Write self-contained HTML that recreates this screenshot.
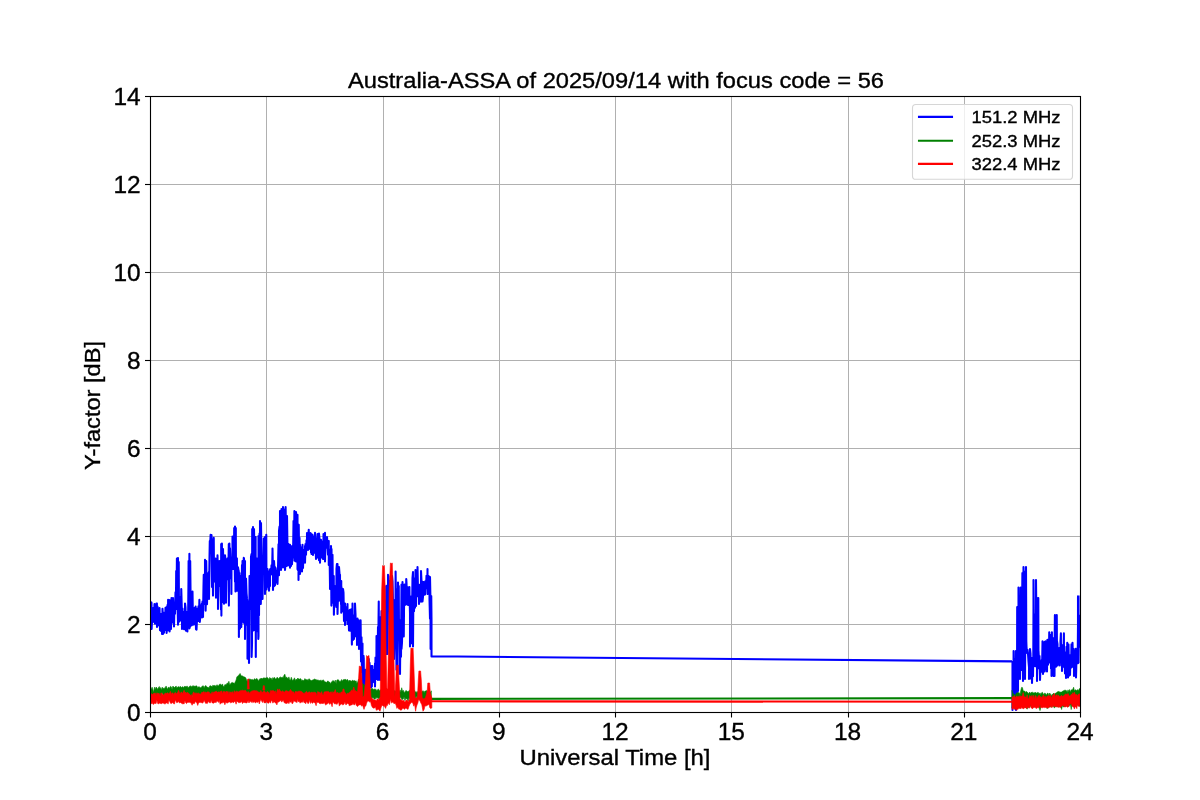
<!DOCTYPE html>
<html><head><meta charset="utf-8"><style>
html,body{margin:0;padding:0;background:#fff;overflow:hidden;}
svg{display:block;will-change:transform;}
text{font-family:"Liberation Sans",sans-serif;fill:#000;stroke:#000;stroke-width:0.35px;}
.g{stroke:#b0b0b0;stroke-width:1;}
.t{stroke:#000;stroke-width:1.11;}
.tl{font-size:24.0px;}
</style></head><body>
<svg width="1200" height="800" viewBox="0 0 1200 800">
<rect width="1200" height="800" fill="#fff"/>
<line x1="266.5" y1="96" x2="266.5" y2="712" class="g"/>
<line x1="383.5" y1="96" x2="383.5" y2="712" class="g"/>
<line x1="499.5" y1="96" x2="499.5" y2="712" class="g"/>
<line x1="615.5" y1="96" x2="615.5" y2="712" class="g"/>
<line x1="731.5" y1="96" x2="731.5" y2="712" class="g"/>
<line x1="848.5" y1="96" x2="848.5" y2="712" class="g"/>
<line x1="964.5" y1="96" x2="964.5" y2="712" class="g"/>
<line x1="150" y1="624.5" x2="1080" y2="624.5" class="g"/>
<line x1="150" y1="536.5" x2="1080" y2="536.5" class="g"/>
<line x1="150" y1="448.5" x2="1080" y2="448.5" class="g"/>
<line x1="150" y1="360.5" x2="1080" y2="360.5" class="g"/>
<line x1="150" y1="272.5" x2="1080" y2="272.5" class="g"/>
<line x1="150" y1="184.5" x2="1080" y2="184.5" class="g"/>
<defs><clipPath id="ax"><rect x="150" y="96" width="930" height="616"/></clipPath></defs>
<g id="data" clip-path="url(#ax)">
<polyline points="150.50,612.07 150.50,602.00 150.50,628.90 151.00,617.68 151.25,602.25 151.50,602.81 151.60,628.90 152.00,621.77 152.50,608.74 153.00,621.85 153.00,622.00 153.50,607.77 154.00,615.92 154.50,604.02 155.00,623.77 155.50,606.30 156.00,620.36 156.50,603.44 156.90,603.50 157.00,626.60 157.00,627.00 157.50,614.68 157.50,606.60 158.00,625.36 158.50,608.56 159.00,615.09 159.50,608.05 160.00,630.17 160.50,615.41 161.00,631.08 161.50,613.76 162.00,631.03 162.00,633.90 162.50,608.68 163.00,625.89 163.00,633.90 163.50,612.44 164.00,632.67 164.50,615.34 165.00,630.05 165.50,607.77 166.00,627.84 166.25,607.25 166.50,608.42 166.60,633.00 167.00,624.28 167.50,605.42 167.50,605.00 168.00,630.20 168.10,599.75 168.50,606.80 169.00,620.56 169.50,604.05 169.50,600.00 169.60,631.40 170.00,626.79 170.50,619.26 170.50,606.00 171.00,629.04 171.50,604.50 171.50,598.00 172.00,622.68 172.50,600.64 173.00,613.43 173.00,598.00 173.50,608.56 174.00,624.25 174.00,626.40 174.40,608.50 174.50,609.92 175.00,613.82 175.50,592.26 176.00,597.07 176.20,571.00 176.50,609.07 176.90,558.50 177.00,581.06 177.50,603.33 178.00,623.20 178.00,558.00 178.00,624.70 178.50,584.54 178.75,562.00 179.00,621.75 179.50,596.72 179.80,606.00 180.00,620.72 180.50,603.15 181.00,613.82 181.25,589.00 181.50,598.29 182.00,616.84 182.00,629.00 182.50,612.46 182.50,608.50 183.00,625.11 183.50,617.23 184.00,629.27 184.50,611.67 185.00,629.31 185.00,603.50 185.50,607.42 186.00,630.68 186.50,618.09 186.90,612.00 187.00,628.78 187.40,631.40 187.50,611.86 188.00,627.20 188.50,580.02 188.60,561.00 189.00,615.32 189.40,553.75 189.50,628.38 190.00,626.27 190.20,561.00 190.50,588.97 190.80,612.00 191.00,621.52 191.50,606.24 191.50,625.50 192.00,621.17 192.50,620.86 192.50,591.60 193.00,624.69 193.50,608.05 194.00,624.49 194.40,608.50 194.50,609.08 195.00,621.82 195.50,607.35 195.60,606.60 196.00,629.11 196.50,609.75 196.50,629.70 197.00,619.19 197.50,614.14 197.50,608.50 198.00,620.86 198.50,606.26 199.00,617.30 199.40,599.75 199.50,605.80 199.80,622.00 200.00,619.57 200.50,610.46 201.00,617.16 201.50,605.16 201.90,603.50 202.00,617.48 202.50,601.51 203.00,616.67 203.00,617.00 203.50,586.27 203.75,574.75 204.00,602.27 204.50,593.52 205.00,603.96 205.00,559.75 205.50,579.48 205.60,610.60 206.00,594.04 206.20,561.00 206.50,576.40 207.00,604.14 207.50,579.14 207.50,573.50 208.00,587.40 208.50,577.78 209.00,571.82 209.00,599.00 209.50,558.71 209.80,541.00 210.00,545.63 210.50,537.55 210.60,534.75 211.00,536.43 211.50,541.09 211.50,535.00 212.00,586.96 212.50,553.07 212.50,549.75 213.00,595.19 213.00,595.60 213.50,541.01 213.75,537.90 214.00,576.47 214.50,573.42 215.00,581.69 215.50,561.31 215.60,558.50 216.00,597.62 216.50,570.70 217.00,583.16 217.50,564.90 217.50,555.40 218.00,592.22 218.00,609.00 218.50,564.46 219.00,585.88 219.50,572.44 219.50,561.00 220.00,584.18 220.50,582.22 221.00,609.72 221.20,544.00 221.40,615.60 221.50,564.33 221.90,543.50 222.00,602.34 222.50,601.03 223.00,567.69 223.00,549.00 223.50,569.52 224.00,603.82 224.50,585.14 224.70,602.00 225.00,579.62 225.00,555.40 225.50,559.75 226.00,602.63 226.50,576.08 227.00,579.43 227.50,574.55 227.50,558.50 228.00,573.29 228.50,563.26 228.80,544.00 228.90,605.60 229.00,569.97 229.40,543.50 229.50,559.14 230.00,548.36 230.50,559.24 231.00,578.89 231.25,558.50 231.40,594.00 231.50,557.76 232.00,563.68 232.50,565.61 232.50,536.60 233.00,568.96 233.50,550.55 234.00,551.45 234.20,528.00 234.50,553.28 235.00,581.80 235.00,526.60 235.50,591.58 235.80,528.00 236.00,579.46 236.50,559.45 236.90,558.50 237.00,571.93 237.00,590.70 237.50,576.00 238.00,567.40 238.50,570.48 238.75,571.00 238.90,637.00 239.00,602.42 239.50,573.09 240.00,628.61 240.50,580.99 240.60,576.00 241.00,623.09 241.30,627.00 241.50,599.50 242.00,564.95 242.50,577.80 242.50,561.00 242.50,620.60 243.00,615.69 243.50,622.61 243.75,557.90 244.00,558.52 244.50,572.76 245.00,593.85 245.00,561.00 245.00,639.00 245.50,594.42 246.00,624.69 246.00,578.50 246.50,593.29 247.00,598.64 247.50,602.12 247.50,658.80 248.00,648.90 248.50,627.10 249.00,623.41 249.00,663.00 249.50,590.59 249.50,576.00 250.00,608.79 250.50,608.23 251.00,566.07 251.00,557.00 251.50,554.05 251.60,657.00 252.00,644.11 252.20,529.00 252.50,543.92 253.00,588.83 253.00,527.00 253.30,630.50 253.50,619.97 254.00,630.11 254.00,529.00 254.50,552.22 255.00,614.64 255.50,588.06 255.60,537.00 255.80,657.00 256.00,559.37 256.50,593.51 257.00,631.12 257.00,558.50 257.50,604.39 258.00,590.51 258.30,639.00 258.50,636.20 258.50,536.00 259.00,615.16 259.50,533.53 260.00,539.02 260.00,521.00 260.50,544.91 260.80,604.00 261.00,590.82 261.00,523.00 261.50,562.47 261.90,566.00 262.00,595.84 262.50,558.35 262.50,599.00 263.00,569.52 263.50,555.88 263.75,538.50 264.00,572.66 264.50,550.36 265.00,574.22 265.00,537.00 265.00,594.00 265.50,562.38 266.00,563.82 266.25,534.75 266.50,589.35 267.00,582.59 267.50,568.99 268.00,586.62 268.00,571.00 268.50,571.89 269.00,589.83 269.00,590.70 269.50,579.40 270.00,585.94 270.00,570.00 270.50,568.75 271.00,574.29 271.50,565.32 272.00,574.52 272.50,551.64 272.50,548.50 273.00,577.16 273.00,590.00 273.50,563.67 274.00,586.16 274.00,561.00 274.50,568.48 275.00,585.37 275.00,567.00 275.50,571.95 276.00,582.36 276.50,571.71 277.00,582.72 277.50,569.08 277.50,568.00 277.50,584.00 278.00,568.90 278.50,544.30 279.00,575.21 279.00,531.00 279.50,526.57 280.00,561.68 280.00,511.00 280.50,559.19 281.00,527.78 281.00,570.00 281.50,531.22 281.50,509.00 282.00,564.23 282.50,540.68 283.00,567.51 283.00,507.00 283.50,521.48 284.00,557.14 284.50,509.85 285.00,517.25 285.00,570.00 285.50,562.97 285.60,507.00 286.00,529.19 286.50,566.08 287.00,523.41 287.00,516.00 287.50,548.51 287.50,543.50 288.00,565.53 288.50,544.16 289.00,560.79 289.50,551.92 290.00,562.52 290.00,544.75 290.00,567.75 290.50,545.80 291.00,566.01 291.50,549.60 292.00,564.23 292.50,549.78 292.50,546.00 293.00,557.41 293.50,523.23 293.50,521.00 294.00,555.11 294.40,511.00 294.50,560.77 295.00,530.85 295.00,560.00 295.50,522.40 296.00,561.43 296.00,512.00 296.50,520.25 297.00,533.20 297.50,546.85 297.50,514.75 297.50,569.00 298.00,570.23 298.50,538.64 298.50,580.00 298.75,524.75 299.00,548.34 299.50,537.79 300.00,562.84 300.00,544.75 300.00,574.00 300.50,547.04 301.00,566.88 301.50,550.45 302.00,568.42 302.00,571.50 302.50,552.44 302.50,544.75 303.00,567.86 303.50,549.95 304.00,559.78 304.50,549.84 305.00,561.36 305.00,546.00 305.00,562.75 305.50,544.06 306.00,554.66 306.50,540.20 307.00,544.65 307.00,533.00 307.50,535.39 308.00,547.60 308.00,550.00 308.50,533.44 308.75,529.75 309.00,545.41 309.50,537.27 310.00,549.07 310.50,533.09 311.00,552.47 311.00,534.00 311.50,534.32 311.50,554.00 312.00,552.63 312.50,536.60 312.50,534.75 313.00,555.01 313.50,541.35 314.00,552.79 314.50,536.22 315.00,545.96 315.00,532.90 315.50,547.25 316.00,558.38 316.00,559.00 316.50,538.18 317.00,552.41 317.50,534.16 318.00,557.75 318.50,538.29 319.00,560.17 319.00,533.50 319.50,538.85 320.00,541.43 320.00,562.75 320.50,540.75 321.00,557.74 321.00,539.75 321.50,544.66 322.00,557.11 322.50,541.64 323.00,558.85 323.50,537.59 323.50,534.00 324.00,558.88 324.50,535.10 325.00,560.33 325.00,532.90 325.00,561.50 325.50,541.21 326.00,546.43 326.50,541.64 327.00,547.79 327.00,537.00 327.50,544.64 328.00,554.58 328.50,541.98 328.75,541.00 328.75,565.00 329.00,564.88 329.50,549.66 330.00,584.49 330.00,589.00 330.50,552.18 331.00,562.64 331.00,546.00 331.40,605.60 331.50,549.08 332.00,597.81 332.50,601.43 332.50,554.75 333.00,602.75 333.50,590.92 333.75,576.00 333.90,614.70 334.00,609.49 334.50,588.35 335.00,604.95 335.00,586.00 335.50,586.70 336.00,601.75 336.30,607.00 336.50,568.80 336.90,564.00 337.00,606.62 337.50,578.06 337.50,564.00 337.50,614.00 338.00,594.74 338.50,570.99 339.00,600.69 339.00,567.00 339.50,573.65 340.00,592.82 340.00,574.75 340.00,595.00 340.50,581.03 341.00,604.24 341.25,581.00 341.25,612.75 341.50,586.97 342.00,606.59 342.50,597.22 343.00,611.20 343.00,589.00 343.50,592.73 344.00,620.86 344.50,607.21 345.00,623.83 345.00,603.50 345.00,625.00 345.50,607.05 346.00,620.03 346.50,607.06 347.00,616.63 347.50,604.42 347.50,604.00 347.50,624.00 348.00,620.04 348.50,610.45 349.00,630.42 349.50,616.09 350.00,630.74 350.00,609.75 350.50,625.46 351.00,626.82 351.50,608.98 351.90,644.60 352.00,623.18 352.50,608.95 352.50,603.50 353.00,640.06 353.50,630.34 354.00,637.14 354.00,639.00 354.50,615.38 355.00,621.55 355.00,603.50 355.50,614.41 356.00,636.51 356.50,619.44 357.00,628.49 357.00,645.00 357.50,627.21 357.50,618.50 358.00,637.54 358.50,620.12 359.00,636.79 359.00,649.00 359.50,633.70 360.00,634.88 360.50,637.83 360.60,620.40 361.00,657.37 361.00,661.50 361.50,637.28 362.00,672.57 362.50,651.15 362.50,643.50 362.50,701.50 363.00,670.97 363.50,655.83 363.75,658.50 364.00,697.82 364.00,704.00 364.50,670.47 365.00,676.85 365.50,669.91 366.00,683.96 366.00,699.00 366.50,670.82 367.00,677.55 367.50,694.90 368.00,685.82 368.50,664.93 368.75,659.00 369.00,678.16 369.50,662.81 370.00,670.93 370.50,666.48 371.00,687.43 371.50,666.05 371.90,686.50 372.00,676.08 372.50,670.29 372.50,666.00 373.00,679.52 373.50,676.81 374.00,682.10 374.50,669.71 375.00,685.42 375.00,663.50 375.00,686.50 375.50,657.42 376.00,668.17 376.25,679.00 376.50,643.81 376.50,636.00 377.00,661.71 377.50,666.76 378.00,626.99 378.00,680.00 378.50,623.85 378.75,601.60 379.00,675.10 379.50,638.27 380.00,659.29 380.00,680.00 380.50,634.86 380.50,617.00 381.00,654.16 381.50,611.07 382.00,619.65 382.00,659.00 382.50,620.95 383.00,657.36 383.00,601.00 383.50,604.36 384.00,654.28 384.50,623.97 385.00,623.77 385.50,601.00 386.00,634.37 386.25,586.00 386.25,654.00 386.50,593.96 387.00,608.95 387.50,585.40 387.50,654.00 388.00,600.95 388.00,574.75 388.50,576.63 389.00,594.78 389.50,596.05 390.00,588.34 390.00,581.00 390.00,649.00 390.50,624.02 391.00,643.83 391.50,652.39 392.00,649.51 392.00,576.00 392.50,581.67 393.00,603.11 393.50,599.85 394.00,635.34 394.00,659.00 394.50,635.93 395.00,610.84 395.50,629.62 395.60,571.60 396.00,614.26 396.50,669.71 397.00,637.39 397.50,589.15 397.50,674.00 398.00,582.57 398.50,619.57 398.75,586.00 399.00,634.21 399.50,620.01 400.00,656.82 400.00,674.00 400.50,622.90 401.00,656.66 401.50,584.42 401.50,649.00 402.00,642.53 402.50,608.64 402.50,582.00 402.50,636.50 403.00,626.26 403.50,590.32 403.75,636.50 404.00,609.40 404.50,584.58 405.00,594.66 405.00,605.00 405.50,589.90 406.00,604.49 406.25,579.00 406.50,583.09 407.00,601.91 407.50,587.05 408.00,604.89 408.50,593.25 409.00,599.50 409.00,605.00 409.40,587.00 409.50,594.94 410.00,613.42 410.00,646.50 410.50,618.51 411.00,643.46 411.50,596.25 412.00,614.97 412.50,577.75 413.00,572.00 413.00,572.00 413.00,646.50 413.50,578.35 414.00,611.28 414.50,588.37 415.00,596.09 415.00,607.75 415.50,569.96 416.00,605.91 416.50,579.43 417.00,596.38 417.50,590.22 417.50,567.00 418.00,589.93 418.50,586.15 419.00,593.94 419.00,604.00 419.50,584.84 420.00,592.19 420.50,588.03 421.00,601.80 421.00,571.00 421.50,581.21 422.00,593.15 422.50,581.73 422.50,601.50 423.00,596.57 423.50,585.48 423.75,582.00 424.00,594.83 424.50,586.87 425.00,594.40 425.50,581.14 426.00,588.19 426.50,575.80 427.00,586.57 427.50,572.19 427.50,569.00 427.50,594.00 428.00,590.92 428.50,575.73 429.00,584.95 429.50,578.92 429.50,599.00 430.00,618.83 430.00,577.00 430.50,602.05 430.60,649.00 431.00,621.82 431.25,596.00 431.50,620.74 431.50,656.50 431.50,656.30 1012.00,661.40" fill="none" stroke="#0000ff" stroke-width="2.08" stroke-linejoin="round"/>
<polyline points="1012.50,663.97 1012.50,662.00 1012.50,710.00 1013.00,684.00 1013.20,662.00 1013.50,679.46 1013.60,651.00 1014.00,680.23 1014.50,658.77 1015.00,702.15 1015.50,707.99 1015.90,651.00 1016.00,705.69 1016.00,710.00 1016.30,663.00 1016.50,663.69 1017.00,689.78 1017.00,663.00 1017.00,699.00 1017.20,607.00 1017.50,657.15 1018.00,689.69 1018.00,691.00 1018.30,607.00 1018.50,617.34 1018.50,587.50 1019.00,637.04 1019.50,605.01 1020.00,658.74 1020.00,679.00 1020.50,649.34 1020.70,587.50 1020.90,595.00 1021.00,615.05 1021.50,664.96 1022.00,670.03 1022.20,595.00 1022.40,573.00 1022.50,582.37 1023.00,663.54 1023.00,681.00 1023.30,573.00 1023.50,570.96 1023.50,567.00 1024.00,603.87 1024.50,571.51 1025.00,665.55 1025.00,679.00 1025.50,609.43 1026.00,631.19 1026.00,567.00 1026.30,641.00 1026.50,646.87 1027.00,652.95 1027.50,649.78 1028.00,653.38 1028.50,661.45 1029.00,667.48 1029.00,679.00 1029.50,670.46 1030.00,672.33 1030.00,649.00 1030.50,653.72 1031.00,678.83 1031.50,657.73 1032.00,678.69 1032.00,683.00 1032.50,663.46 1032.75,657.75 1033.00,676.27 1033.30,657.00 1033.50,608.32 1033.50,580.00 1034.00,643.77 1034.50,624.41 1035.00,664.29 1035.00,666.25 1035.50,614.28 1036.00,619.63 1036.00,580.00 1036.20,598.00 1036.50,662.73 1036.50,666.25 1037.00,635.06 1037.00,681.00 1037.50,637.95 1038.00,598.00 1038.30,598.00 1038.50,668.27 1038.50,651.00 1039.00,660.31 1039.50,655.92 1040.00,676.38 1040.00,680.00 1040.50,666.31 1041.00,668.10 1041.50,663.76 1041.75,660.00 1042.00,671.75 1042.50,643.01 1042.50,641.25 1043.00,666.77 1043.00,674.00 1043.50,647.91 1044.00,661.18 1044.50,642.01 1044.75,671.50 1045.00,668.16 1045.50,658.65 1045.50,641.25 1046.00,659.80 1046.00,651.75 1046.50,657.45 1047.00,663.45 1047.00,671.50 1047.40,639.75 1047.50,643.89 1048.00,664.63 1048.50,639.69 1049.00,647.94 1049.25,632.25 1049.25,662.50 1049.50,634.23 1050.00,660.46 1050.00,662.50 1050.50,634.97 1051.00,668.57 1051.50,635.37 1051.50,676.00 1051.90,632.25 1052.00,664.99 1052.25,660.00 1052.50,666.03 1053.00,657.99 1053.40,638.25 1053.50,676.00 1054.00,674.32 1054.50,640.26 1054.50,676.00 1054.70,638.25 1054.90,615.00 1055.00,663.03 1055.50,620.87 1056.00,666.73 1056.50,623.52 1056.75,615.00 1057.00,660.08 1057.00,641.25 1057.50,644.22 1057.50,665.50 1058.00,663.02 1058.50,654.14 1059.00,661.98 1059.50,647.79 1059.75,665.50 1060.00,650.07 1060.50,647.03 1060.50,641.25 1060.90,633.40 1061.00,661.40 1061.50,648.51 1062.00,666.94 1062.00,671.00 1062.50,645.18 1063.00,657.20 1063.50,653.20 1063.90,633.40 1064.00,667.05 1064.50,655.05 1065.00,673.46 1065.00,652.50 1065.50,661.60 1066.00,671.82 1066.00,678.00 1066.50,646.68 1067.00,668.10 1067.25,642.75 1067.50,657.14 1068.00,675.49 1068.00,677.50 1068.50,644.42 1069.00,675.74 1069.50,655.06 1070.00,667.97 1070.00,675.00 1070.50,655.08 1071.00,667.81 1071.50,644.25 1072.00,661.91 1072.00,663.25 1072.50,647.33 1072.50,642.75 1073.00,662.94 1073.00,667.00 1073.25,648.75 1073.50,651.16 1074.00,669.28 1074.00,676.00 1074.50,652.32 1075.00,663.60 1075.50,651.73 1075.50,648.75 1076.00,677.07 1076.00,677.50 1076.50,656.71 1077.00,657.13 1077.50,648.13 1077.80,648.00 1078.00,625.72 1078.00,596.25 1078.00,663.25 1078.50,621.19 1079.00,646.83 1079.50,615.58 1080.00,641.04 1080.50,627.39 1080.50,596.25 1080.50,663.25" fill="none" stroke="#0000ff" stroke-width="2.08" stroke-linejoin="round"/>
<polygon points="150.50,690.42 151.30,689.09 152.10,687.17 152.90,689.51 153.70,691.95 154.50,687.14 155.30,689.53 156.10,687.01 156.90,687.91 157.70,689.46 158.50,687.47 159.30,686.53 160.10,689.08 160.90,687.45 161.70,689.93 162.50,687.19 163.30,688.60 164.10,688.18 164.90,688.19 165.70,686.43 166.50,686.42 167.30,689.19 168.10,688.08 168.90,686.92 169.70,688.57 170.50,686.35 171.30,686.88 172.10,689.52 172.90,686.09 173.70,687.05 174.50,687.51 175.30,686.75 176.10,686.00 176.90,687.95 177.70,686.94 178.50,686.60 179.30,687.53 180.10,686.34 180.90,686.94 181.70,687.56 182.50,686.59 183.30,687.51 184.10,686.89 184.90,685.97 185.70,686.80 186.50,686.42 187.30,686.13 188.10,687.64 188.90,687.11 189.70,686.17 190.50,685.79 191.30,687.37 192.10,685.73 192.90,686.43 193.70,685.75 194.50,686.23 195.30,686.24 196.10,685.70 196.90,686.02 197.70,687.65 198.50,686.83 199.30,686.68 200.10,687.81 200.90,687.72 201.70,686.87 202.50,685.92 203.30,685.81 204.10,687.95 204.90,686.24 205.70,685.45 206.50,686.58 207.30,687.25 208.10,687.11 208.90,688.25 209.70,685.90 210.50,685.73 211.30,686.06 212.10,687.07 212.90,685.12 213.70,685.86 214.50,685.44 215.30,685.57 216.10,686.42 216.90,684.68 217.70,685.38 218.50,685.99 219.30,684.39 220.10,684.08 220.90,684.46 221.70,685.20 222.50,683.95 223.30,686.55 224.10,686.47 224.90,684.57 225.70,684.76 226.50,684.27 227.30,682.97 228.10,683.47 228.90,681.28 229.70,684.72 230.50,683.99 231.30,682.91 232.10,682.20 232.90,682.95 233.70,683.01 234.50,683.46 235.30,681.74 236.10,680.07 236.90,676.79 237.70,676.18 238.50,675.54 239.30,674.42 240.10,673.44 240.90,675.22 241.70,675.93 242.50,675.93 243.30,676.54 244.10,676.95 244.90,677.06 245.70,677.78 246.50,679.86 247.30,681.66 248.10,679.11 248.90,679.61 249.70,678.94 250.50,679.31 251.30,679.77 252.10,679.28 252.90,679.93 253.70,680.05 254.50,678.62 255.30,679.43 256.10,678.95 256.90,678.41 257.70,679.44 258.50,681.31 259.30,679.49 260.10,678.38 260.90,679.11 261.70,677.99 262.50,678.96 263.30,677.93 264.10,677.76 264.90,678.28 265.70,678.08 266.50,677.81 267.30,677.39 268.10,678.34 268.90,679.44 269.70,677.41 270.50,678.30 271.30,678.31 272.10,679.89 272.90,677.53 273.70,678.47 274.50,677.33 275.30,678.92 276.10,679.01 276.90,677.53 277.70,677.61 278.50,678.99 279.30,677.88 280.10,676.83 280.90,677.46 281.70,677.52 282.50,677.20 283.30,677.58 284.10,675.04 284.90,674.19 285.70,678.01 286.50,677.07 287.30,677.68 288.10,678.74 288.90,676.89 289.70,679.64 290.50,680.24 291.30,677.28 292.10,679.60 292.90,680.57 293.70,679.37 294.50,677.82 295.30,681.03 296.10,679.01 296.90,680.17 297.70,678.05 298.50,678.86 299.30,679.19 300.10,678.70 300.90,678.85 301.70,680.76 302.50,680.12 303.30,680.62 304.10,680.18 304.90,678.60 305.70,679.56 306.50,679.81 307.30,679.54 308.10,680.50 308.90,678.77 309.70,679.22 310.50,679.98 311.30,681.02 312.10,679.92 312.90,680.20 313.70,679.39 314.50,679.07 315.30,679.41 316.10,679.51 316.90,680.17 317.70,679.99 318.50,680.20 319.30,680.41 320.10,680.71 320.90,679.87 321.70,681.23 322.50,680.33 323.30,679.82 324.10,680.96 324.90,681.69 325.70,682.02 326.50,682.59 327.30,681.33 328.10,680.89 328.90,682.29 329.70,682.09 330.50,684.07 331.30,682.15 332.10,681.39 332.90,680.45 333.70,681.12 334.50,681.89 335.30,680.05 336.10,683.73 336.90,680.04 337.70,679.84 338.50,679.87 339.30,681.26 340.10,681.54 340.90,680.91 341.70,679.44 342.50,681.13 343.30,679.83 344.10,679.36 344.90,679.84 345.70,679.27 346.50,680.55 347.30,679.36 348.10,680.28 348.90,681.51 349.70,680.00 350.50,680.83 351.30,681.31 352.10,680.43 352.90,680.37 353.70,680.94 354.50,680.47 355.30,681.30 356.10,680.72 356.90,683.46 357.70,682.07 358.50,679.13 359.30,681.50 360.10,684.25 360.90,682.20 361.70,683.57 362.50,683.43 363.30,684.10 364.10,684.81 364.90,685.24 365.70,687.51 366.50,686.30 367.30,686.40 368.10,686.89 368.90,691.33 369.70,690.27 370.50,689.63 371.30,688.70 372.10,688.29 372.90,688.91 373.70,689.51 374.50,689.05 375.30,689.14 376.10,689.45 376.90,690.67 377.70,689.55 378.50,689.01 379.30,690.82 380.10,690.23 380.90,689.81 381.70,689.63 382.50,690.46 383.30,689.92 384.10,691.21 384.90,690.23 385.70,689.55 386.50,689.84 387.30,689.30 388.10,689.95 388.90,691.79 389.70,689.60 390.50,690.59 391.30,690.10 392.10,691.70 392.90,690.06 393.70,690.78 394.50,690.67 395.30,690.79 396.10,692.07 396.90,690.13 397.70,694.40 398.50,690.20 399.30,692.17 400.10,690.05 400.90,692.24 401.70,687.76 402.50,691.32 403.30,690.34 404.10,692.16 404.90,692.44 405.70,690.66 406.50,690.66 407.30,691.73 408.10,691.16 408.90,691.35 409.70,690.02 410.50,690.57 411.30,690.04 412.10,691.94 412.90,690.66 413.70,691.65 414.50,690.32 415.30,692.35 416.10,691.47 416.90,693.11 417.70,691.51 418.50,691.07 419.30,692.17 420.10,692.94 420.90,692.53 421.70,692.21 422.50,690.92 423.30,690.83 424.10,692.78 424.90,690.97 425.70,690.97 426.50,690.49 427.30,692.02 428.10,692.23 428.90,693.24 429.70,691.53 430.50,692.58 431.30,690.80 431.30,699.45 430.50,697.63 429.70,699.14 428.90,698.52 428.10,697.63 427.30,698.74 426.50,699.86 425.70,697.83 424.90,699.41 424.10,699.90 423.30,699.71 422.50,699.83 421.70,699.29 420.90,698.65 420.10,697.63 419.30,698.65 418.50,699.24 417.70,698.53 416.90,698.44 416.10,695.86 415.30,699.33 414.50,699.67 413.70,699.65 412.90,699.67 412.10,698.66 411.30,697.70 410.50,698.88 409.70,698.43 408.90,698.16 408.10,701.04 407.30,699.23 406.50,698.63 405.70,698.48 404.90,700.66 404.10,696.73 403.30,698.94 402.50,699.46 401.70,699.57 400.90,697.21 400.10,697.66 399.30,697.43 398.50,699.50 397.70,699.52 396.90,697.48 396.10,698.85 395.30,699.12 394.50,695.30 393.70,698.34 392.90,698.59 392.10,698.56 391.30,698.03 390.50,698.94 389.70,698.14 388.90,696.31 388.10,699.28 387.30,698.74 386.50,699.28 385.70,697.34 384.90,697.94 384.10,697.42 383.30,698.48 382.50,697.56 381.70,699.31 380.90,699.36 380.10,699.07 379.30,697.99 378.50,698.78 377.70,697.48 376.90,698.55 376.10,696.93 375.30,698.88 374.50,699.32 373.70,698.39 372.90,697.14 372.10,698.46 371.30,699.07 370.50,697.74 369.70,698.14 368.90,698.62 368.10,696.37 367.30,698.89 366.50,697.09 365.70,699.02 364.90,697.18 364.10,698.73 363.30,699.14 362.50,698.73 361.70,698.80 360.90,698.57 360.10,698.79 359.30,698.39 358.50,698.42 357.70,697.72 356.90,698.25 356.10,698.33 355.30,698.83 354.50,698.58 353.70,695.76 352.90,698.27 352.10,698.23 351.30,698.82 350.50,697.42 349.70,698.22 348.90,698.93 348.10,697.71 347.30,696.79 346.50,697.92 345.70,698.72 344.90,696.83 344.10,696.97 343.30,696.79 342.50,698.68 341.70,698.73 340.90,698.89 340.10,697.94 339.30,697.92 338.50,697.07 337.70,698.51 336.90,697.79 336.10,698.23 335.30,698.13 334.50,698.58 333.70,698.53 332.90,696.33 332.10,695.05 331.30,696.12 330.50,697.65 329.70,696.90 328.90,695.88 328.10,695.55 327.30,698.68 326.50,697.99 325.70,697.07 324.90,697.55 324.10,697.48 323.30,694.76 322.50,698.75 321.70,697.34 320.90,698.15 320.10,696.94 319.30,697.52 318.50,698.56 317.70,697.47 316.90,697.37 316.10,696.56 315.30,696.21 314.50,697.79 313.70,698.52 312.90,698.21 312.10,697.36 311.30,694.60 310.50,698.59 309.70,697.66 308.90,697.10 308.10,698.56 307.30,698.47 306.50,697.01 305.70,698.41 304.90,697.49 304.10,698.37 303.30,696.08 302.50,696.97 301.70,698.18 300.90,697.56 300.10,698.40 299.30,697.10 298.50,697.28 297.70,697.50 296.90,697.65 296.10,697.91 295.30,697.13 294.50,697.77 293.70,696.67 292.90,698.24 292.10,696.26 291.30,697.56 290.50,697.75 289.70,697.24 288.90,697.36 288.10,696.86 287.30,697.90 286.50,697.82 285.70,697.60 284.90,697.58 284.10,695.85 283.30,697.87 282.50,695.64 281.70,698.25 280.90,697.47 280.10,696.88 279.30,697.22 278.50,697.65 277.70,698.47 276.90,697.03 276.10,698.33 275.30,696.05 274.50,696.34 273.70,697.03 272.90,697.01 272.10,697.61 271.30,696.50 270.50,698.12 269.70,696.29 268.90,697.51 268.10,696.36 267.30,697.89 266.50,697.39 265.70,697.48 264.90,696.26 264.10,696.77 263.30,697.52 262.50,695.82 261.70,697.72 260.90,696.32 260.10,695.81 259.30,695.04 258.50,698.12 257.70,697.42 256.90,697.96 256.10,696.24 255.30,697.55 254.50,697.10 253.70,696.91 252.90,696.38 252.10,697.17 251.30,698.02 250.50,696.11 249.70,697.77 248.90,696.80 248.10,696.97 247.30,698.02 246.50,697.71 245.70,697.62 244.90,697.23 244.10,696.75 243.30,696.30 242.50,695.72 241.70,695.99 240.90,695.21 240.10,695.34 239.30,695.14 238.50,697.58 237.70,697.44 236.90,695.51 236.10,696.95 235.30,700.18 234.50,696.50 233.70,697.50 232.90,697.26 232.10,695.39 231.30,697.09 230.50,697.06 229.70,697.48 228.90,697.23 228.10,697.31 227.30,694.72 226.50,692.71 225.70,694.86 224.90,696.45 224.10,698.23 223.30,697.10 222.50,696.82 221.70,695.27 220.90,697.09 220.10,697.33 219.30,695.93 218.50,696.94 217.70,695.74 216.90,697.19 216.10,696.96 215.30,695.68 214.50,696.39 213.70,695.80 212.90,695.14 212.10,697.44 211.30,694.92 210.50,696.24 209.70,694.94 208.90,696.72 208.10,697.53 207.30,697.11 206.50,696.35 205.70,696.63 204.90,696.77 204.10,695.12 203.30,696.66 202.50,696.53 201.70,695.79 200.90,696.90 200.10,696.67 199.30,696.02 198.50,697.46 197.70,695.66 196.90,696.47 196.10,695.27 195.30,694.39 194.50,697.33 193.70,695.99 192.90,694.80 192.10,696.98 191.30,696.80 190.50,698.09 189.70,697.05 188.90,697.21 188.10,697.09 187.30,693.50 186.50,697.17 185.70,696.65 184.90,696.97 184.10,695.25 183.30,697.27 182.50,694.39 181.70,695.70 180.90,697.29 180.10,696.67 179.30,697.05 178.50,696.85 177.70,696.71 176.90,696.99 176.10,697.06 175.30,696.22 174.50,695.88 173.70,697.07 172.90,693.45 172.10,694.69 171.30,696.78 170.50,696.80 169.70,696.06 168.90,696.40 168.10,696.71 167.30,694.94 166.50,695.74 165.70,696.51 164.90,694.36 164.10,696.42 163.30,696.37 162.50,692.51 161.70,695.11 160.90,696.12 160.10,696.69 159.30,695.13 158.50,693.27 157.70,696.39 156.90,696.63 156.10,696.36 155.30,694.60 154.50,696.79 153.70,695.67 152.90,695.91 152.10,696.99 151.30,694.41 150.50,695.03" fill="#008000" stroke="#008000" stroke-width="0.6" stroke-linejoin="round"/>
<polyline points="431.00,698.90 1012.00,698.10" fill="none" stroke="#008000" stroke-width="2.08" stroke-linejoin="round"/>
<polygon points="1012.00,690.30 1012.80,694.88 1013.60,693.53 1014.40,694.98 1015.20,695.65 1016.00,693.57 1016.80,692.87 1017.60,692.98 1018.40,692.62 1019.20,692.71 1020.00,694.84 1020.80,690.43 1021.60,687.39 1022.40,687.54 1023.20,690.79 1024.00,691.33 1024.80,691.05 1025.60,692.45 1026.40,691.43 1027.20,692.05 1028.00,693.19 1028.80,693.59 1029.60,691.99 1030.40,693.61 1031.20,692.33 1032.00,692.60 1032.80,692.19 1033.60,692.95 1034.40,692.73 1035.20,692.62 1036.00,692.51 1036.80,693.33 1037.60,692.38 1038.40,692.56 1039.20,694.18 1040.00,692.85 1040.80,694.66 1041.60,692.77 1042.40,692.30 1043.20,693.88 1044.00,694.59 1044.80,692.89 1045.60,693.69 1046.40,695.35 1047.20,693.41 1048.00,693.06 1048.80,695.75 1049.60,693.02 1050.40,693.90 1051.20,696.30 1052.00,694.37 1052.80,694.70 1053.60,693.04 1054.40,695.32 1055.20,693.26 1056.00,693.34 1056.80,692.29 1057.60,691.78 1058.40,691.48 1059.20,691.47 1060.00,692.30 1060.80,692.08 1061.60,692.12 1062.40,691.32 1063.20,690.98 1064.00,690.39 1064.80,690.25 1065.60,690.28 1066.40,690.60 1067.20,692.49 1068.00,689.83 1068.80,691.72 1069.60,689.51 1070.40,692.19 1071.20,689.85 1072.00,689.99 1072.80,689.21 1073.60,687.22 1074.40,690.70 1075.20,689.81 1076.00,690.06 1076.80,690.64 1077.60,689.59 1078.40,690.75 1079.20,689.06 1080.00,688.32 1080.00,706.35 1079.20,706.05 1078.40,705.83 1077.60,704.35 1076.80,706.34 1076.00,706.17 1075.20,706.22 1074.40,704.10 1073.60,706.15 1072.80,706.04 1072.00,704.69 1071.20,709.55 1070.40,704.14 1069.60,705.25 1068.80,706.74 1068.00,704.16 1067.20,705.32 1066.40,705.91 1065.60,706.16 1064.80,707.00 1064.00,706.20 1063.20,707.21 1062.40,705.17 1061.60,709.50 1060.80,706.71 1060.00,706.17 1059.20,706.94 1058.40,706.55 1057.60,707.02 1056.80,705.59 1056.00,707.13 1055.20,706.38 1054.40,708.12 1053.60,706.31 1052.80,706.54 1052.00,705.70 1051.20,707.32 1050.40,706.34 1049.60,707.13 1048.80,706.40 1048.00,705.67 1047.20,708.80 1046.40,705.79 1045.60,704.89 1044.80,706.65 1044.00,705.31 1043.20,705.13 1042.40,705.46 1041.60,705.72 1040.80,707.52 1040.00,710.62 1039.20,707.46 1038.40,706.44 1037.60,705.24 1036.80,707.43 1036.00,707.29 1035.20,706.33 1034.40,706.58 1033.60,706.97 1032.80,707.26 1032.00,706.93 1031.20,707.62 1030.40,705.64 1029.60,706.04 1028.80,707.74 1028.00,704.78 1027.20,709.21 1026.40,707.40 1025.60,707.40 1024.80,707.42 1024.00,705.84 1023.20,705.18 1022.40,707.42 1021.60,706.45 1020.80,706.68 1020.00,707.19 1019.20,708.51 1018.40,704.25 1017.60,707.17 1016.80,704.15 1016.00,705.22 1015.20,707.02 1014.40,707.02 1013.60,704.20 1012.80,706.49 1012.00,707.79" fill="#008000" stroke="#008000" stroke-width="0.6" stroke-linejoin="round"/>
<polygon points="150.50,693.76 151.30,693.46 152.10,694.51 152.90,694.61 153.70,693.15 154.50,693.31 155.30,693.11 156.10,695.74 156.90,692.79 157.70,693.41 158.50,693.52 159.30,693.52 160.10,696.93 160.90,693.00 161.70,692.95 162.50,694.59 163.30,694.54 164.10,695.31 164.90,693.27 165.70,693.27 166.50,693.59 167.30,692.72 168.10,693.19 168.90,693.91 169.70,692.83 170.50,691.31 171.30,694.43 172.10,692.88 172.90,692.94 173.70,694.77 174.50,693.06 175.30,692.32 176.10,693.75 176.90,693.14 177.70,692.61 178.50,690.15 179.30,692.13 180.10,694.45 180.90,692.35 181.70,692.08 182.50,693.84 183.30,692.12 184.10,690.33 184.90,693.00 185.70,692.07 186.50,693.21 187.30,692.41 188.10,692.69 188.90,693.60 189.70,694.27 190.50,695.52 191.30,694.54 192.10,697.36 192.90,693.22 193.70,691.84 194.50,693.40 195.30,692.77 196.10,694.22 196.90,692.71 197.70,693.78 198.50,693.01 199.30,693.66 200.10,694.05 200.90,694.18 201.70,692.21 202.50,692.56 203.30,692.03 204.10,691.51 204.90,693.45 205.70,691.83 206.50,693.00 207.30,691.76 208.10,692.32 208.90,691.73 209.70,693.15 210.50,693.79 211.30,693.75 212.10,691.73 212.90,693.90 213.70,691.95 214.50,692.04 215.30,691.58 216.10,691.24 216.90,691.57 217.70,692.62 218.50,691.70 219.30,691.98 220.10,692.27 220.90,691.01 221.70,690.97 222.50,693.85 223.30,691.24 224.10,692.00 224.90,691.35 225.70,692.45 226.50,691.03 227.30,692.03 228.10,691.31 228.90,694.54 229.70,691.69 230.50,692.18 231.30,692.15 232.10,692.47 232.90,691.50 233.70,694.15 234.50,690.65 235.30,692.20 236.10,691.47 236.90,691.01 237.70,691.67 238.50,691.93 239.30,691.07 240.10,691.37 240.90,690.14 241.70,690.68 242.50,690.17 243.30,690.51 244.10,690.80 244.90,690.20 245.70,690.52 246.50,692.02 247.30,692.44 248.10,691.39 248.90,692.25 249.70,693.44 250.50,691.80 251.30,691.17 252.10,691.27 252.90,690.52 253.70,690.63 254.50,690.62 255.30,690.44 256.10,691.24 256.90,690.54 257.70,691.45 258.50,692.02 259.30,692.61 260.10,691.85 260.90,690.45 261.70,692.33 262.50,692.21 263.30,691.58 264.10,690.60 264.90,691.52 265.70,692.52 266.50,692.72 267.30,691.28 268.10,692.23 268.90,692.38 269.70,694.44 270.50,690.54 271.30,690.85 272.10,690.86 272.90,690.54 273.70,690.73 274.50,691.70 275.30,690.69 276.10,694.05 276.90,691.29 277.70,688.87 278.50,690.87 279.30,688.90 280.10,690.68 280.90,691.09 281.70,691.91 282.50,690.69 283.30,691.38 284.10,692.16 284.90,691.60 285.70,690.85 286.50,690.75 287.30,691.08 288.10,691.50 288.90,691.60 289.70,690.91 290.50,689.43 291.30,691.04 292.10,691.29 292.90,692.18 293.70,691.84 294.50,694.27 295.30,691.43 296.10,691.60 296.90,691.82 297.70,691.63 298.50,691.24 299.30,691.12 300.10,691.60 300.90,690.99 301.70,691.87 302.50,692.36 303.30,693.80 304.10,692.64 304.90,693.69 305.70,692.09 306.50,691.32 307.30,692.90 308.10,692.50 308.90,691.69 309.70,691.92 310.50,693.12 311.30,692.26 312.10,691.98 312.90,692.83 313.70,692.14 314.50,692.18 315.30,692.53 316.10,692.68 316.90,696.29 317.70,691.41 318.50,692.06 319.30,692.37 320.10,692.64 320.90,693.24 321.70,691.53 322.50,694.53 323.30,695.14 324.10,692.04 324.90,691.75 325.70,691.63 326.50,691.62 327.30,691.66 328.10,691.37 328.90,691.96 329.70,693.10 330.50,691.98 331.30,691.75 332.10,694.06 332.90,691.60 333.70,692.83 334.50,691.51 335.30,689.60 336.10,692.61 336.90,693.27 337.70,692.17 338.50,693.50 339.30,692.70 340.10,693.73 340.90,692.23 341.70,691.98 342.50,692.29 343.30,692.18 344.10,692.26 344.90,692.28 345.70,693.05 346.50,694.83 347.30,693.36 348.10,692.92 348.90,694.07 349.70,694.82 349.70,704.33 348.90,703.66 348.10,704.07 347.30,703.11 346.50,704.59 345.70,704.66 344.90,701.66 344.10,704.17 343.30,704.68 342.50,704.76 341.70,703.99 340.90,704.14 340.10,705.03 339.30,706.10 338.50,701.80 337.70,703.30 336.90,704.53 336.10,703.64 335.30,703.87 334.50,703.93 333.70,702.59 332.90,702.16 332.10,706.79 331.30,704.30 330.50,703.07 329.70,704.38 328.90,703.08 328.10,702.67 327.30,704.12 326.50,704.32 325.70,705.11 324.90,703.66 324.10,702.44 323.30,703.63 322.50,703.47 321.70,703.41 320.90,703.28 320.10,703.96 319.30,703.30 318.50,702.32 317.70,702.67 316.90,701.84 316.10,705.69 315.30,703.44 314.50,702.80 313.70,701.88 312.90,703.05 312.10,703.27 311.30,701.53 310.50,703.42 309.70,700.36 308.90,702.70 308.10,703.72 307.30,702.39 306.50,701.55 305.70,703.85 304.90,702.32 304.10,702.89 303.30,700.61 302.50,702.28 301.70,702.18 300.90,702.02 300.10,703.16 299.30,701.20 298.50,702.04 297.70,699.51 296.90,702.71 296.10,701.69 295.30,701.82 294.50,701.34 293.70,700.85 292.90,703.27 292.10,703.76 291.30,701.52 290.50,702.24 289.70,701.60 288.90,703.68 288.10,702.14 287.30,703.34 286.50,703.47 285.70,703.22 284.90,703.26 284.10,702.39 283.30,700.24 282.50,701.09 281.70,702.13 280.90,699.77 280.10,701.26 279.30,701.25 278.50,702.25 277.70,701.75 276.90,704.90 276.10,703.29 275.30,702.90 274.50,701.88 273.70,701.78 272.90,703.15 272.10,701.20 271.30,700.40 270.50,703.16 269.70,701.14 268.90,703.06 268.10,703.33 267.30,702.85 266.50,701.51 265.70,702.98 264.90,702.65 264.10,702.92 263.30,699.94 262.50,702.55 261.70,701.14 260.90,699.40 260.10,701.20 259.30,703.92 258.50,701.01 257.70,702.57 256.90,701.85 256.10,702.39 255.30,703.00 254.50,701.73 253.70,702.04 252.90,702.79 252.10,701.27 251.30,702.50 250.50,701.33 249.70,701.83 248.90,703.01 248.10,700.43 247.30,702.59 246.50,702.92 245.70,703.00 244.90,702.21 244.10,702.63 243.30,702.37 242.50,703.61 241.70,701.43 240.90,702.46 240.10,702.13 239.30,702.70 238.50,702.59 237.70,702.06 236.90,701.03 236.10,704.21 235.30,701.63 234.50,701.45 233.70,702.65 232.90,702.37 232.10,701.95 231.30,702.68 230.50,702.78 229.70,702.05 228.90,702.08 228.10,702.41 227.30,703.21 226.50,702.70 225.70,702.37 224.90,704.81 224.10,702.65 223.30,702.29 222.50,702.87 221.70,703.02 220.90,702.88 220.10,704.28 219.30,700.56 218.50,702.45 217.70,701.27 216.90,700.95 216.10,702.69 215.30,702.20 214.50,702.47 213.70,703.24 212.90,702.91 212.10,702.96 211.30,700.14 210.50,702.80 209.70,702.91 208.90,701.49 208.10,701.96 207.30,703.57 206.50,703.17 205.70,703.39 204.90,701.91 204.10,700.21 203.30,702.42 202.50,703.06 201.70,702.95 200.90,702.09 200.10,702.79 199.30,702.37 198.50,703.29 197.70,705.43 196.90,703.05 196.10,702.13 195.30,701.55 194.50,703.62 193.70,703.60 192.90,703.42 192.10,705.22 191.30,703.60 190.50,702.73 189.70,702.35 188.90,702.38 188.10,702.24 187.30,702.54 186.50,703.63 185.70,702.85 184.90,700.66 184.10,704.00 183.30,703.66 182.50,703.81 181.70,703.48 180.90,702.64 180.10,702.38 179.30,703.03 178.50,701.13 177.70,702.19 176.90,702.94 176.10,701.45 175.30,700.35 174.50,704.01 173.70,703.82 172.90,702.38 172.10,703.01 171.30,703.56 170.50,703.28 169.70,701.40 168.90,700.25 168.10,704.11 167.30,702.79 166.50,702.88 165.70,703.62 164.90,704.05 164.10,703.56 163.30,703.14 162.50,702.92 161.70,703.77 160.90,703.48 160.10,703.38 159.30,703.06 158.50,703.98 157.70,703.56 156.90,700.37 156.10,703.62 155.30,703.43 154.50,703.17 153.70,704.36 152.90,704.16 152.10,702.46 151.30,703.98 150.50,704.53" fill="#ff0000" stroke="#ff0000" stroke-width="0.6" stroke-linejoin="round"/>
<polygon points="247.30,689.00 247.80,679.00 248.80,679.00 249.30,689.00" fill="#ff0000" stroke="#ff0000" stroke-width="0.6" stroke-linejoin="round"/>
<polygon points="262.80,690.00 263.30,685.70 264.30,685.70 264.80,690.00" fill="#ff0000" stroke="#ff0000" stroke-width="0.6" stroke-linejoin="round"/>
<polygon points="342.50,693.00 343.00,689.00 344.00,689.00 344.50,693.00" fill="#ff0000" stroke="#ff0000" stroke-width="0.6" stroke-linejoin="round"/>
<polygon points="349.00,692.50 349.80,692.34 350.60,691.49 351.50,690.00 352.20,690.40 353.00,690.30 353.75,687.00 354.60,690.13 356.00,691.00 357.50,692.00 358.50,680.00 359.30,666.00 360.20,666.86 361.30,666.00 362.00,680.00 362.80,697.00 364.00,696.00 365.60,680.00 366.60,655.50 367.40,656.62 368.20,655.89 369.00,655.50 370.00,680.00 371.00,697.00 372.50,699.00 374.40,700.00 375.40,699.82 376.20,700.92 377.20,699.00 377.80,698.94 378.60,699.80 379.40,698.22 380.20,697.00 381.00,645.00 381.70,590.00 382.60,565.50 383.40,566.59 384.40,565.50 385.30,590.00 386.00,645.00 386.90,688.00 387.60,690.00 388.50,645.00 389.20,590.00 390.40,563.00 391.40,563.38 392.30,563.00 393.00,590.00 393.70,645.00 394.80,698.00 395.80,680.00 396.30,665.00 397.00,665.57 398.30,665.00 399.00,680.00 400.00,699.00 401.00,699.42 401.80,700.25 402.60,700.71 403.40,700.00 404.20,701.38 405.00,701.96 406.25,700.00 407.40,700.41 408.20,701.76 409.50,699.00 410.30,665.00 410.90,648.00 412.20,648.50 413.10,648.00 413.80,665.00 415.00,698.00 416.20,697.97 417.50,697.00 418.30,680.00 418.90,671.00 420.60,671.00 421.30,680.00 422.20,698.00 424.00,699.00 425.00,698.20 426.00,696.00 426.60,693.52 427.30,690.00 427.80,683.00 429.60,683.00 430.30,692.50 431.80,698.00 431.80,708.00 430.60,708.40 429.80,707.73 429.00,704.30 428.20,704.68 426.90,705.60 425.80,706.13 425.00,705.51 424.20,709.32 423.00,711.25 421.80,704.65 421.00,703.33 420.20,701.49 419.40,700.00 418.60,699.52 417.80,703.20 417.00,704.91 416.20,707.84 415.60,711.25 414.60,704.05 413.80,706.20 413.00,703.68 411.90,701.90 410.60,703.46 409.80,704.50 409.00,706.22 408.00,709.40 406.60,708.44 405.80,708.10 405.00,708.70 404.40,709.40 403.40,708.36 402.60,708.19 401.80,709.79 400.60,710.30 399.40,709.10 398.60,709.10 397.80,706.86 396.90,708.40 396.20,705.58 395.40,703.56 394.60,703.38 394.00,703.75 393.00,702.20 392.20,702.29 391.40,703.07 390.60,699.21 389.40,704.70 388.20,702.84 387.40,705.51 386.60,705.20 385.60,708.40 384.20,705.78 383.40,706.24 382.60,705.38 381.90,705.60 381.00,707.80 380.00,711.25 378.60,709.15 377.80,709.71 377.00,709.87 376.25,710.30 375.40,706.76 374.60,708.00 373.80,708.26 372.50,707.50 371.40,705.51 370.60,701.58 369.80,702.33 368.75,701.00 367.40,701.36 366.60,703.33 365.80,706.00 365.00,706.32 364.00,709.40 362.60,705.29 361.80,706.14 361.00,705.36 360.30,704.70 359.40,704.88 358.60,705.32 357.50,706.60 356.20,705.28 355.40,702.54 354.60,704.88 353.75,704.70 353.00,703.48 352.20,704.85 351.40,704.92 350.60,705.17 350.00,705.60 349.00,705.60" fill="#ff0000" stroke="#ff0000" stroke-width="0.6" stroke-linejoin="round"/>
<polyline points="431.00,701.30 1012.00,701.80" fill="none" stroke="#ff0000" stroke-width="2.08" stroke-linejoin="round"/>
<polygon points="1012.00,696.48 1012.80,698.04 1013.60,696.55 1014.40,695.50 1015.20,698.03 1016.00,696.46 1016.80,696.19 1017.60,696.85 1018.40,696.26 1019.20,697.28 1020.00,695.54 1020.80,697.03 1021.60,696.00 1022.40,695.89 1023.20,692.55 1024.00,697.06 1024.80,696.71 1025.60,697.08 1026.40,697.42 1027.20,694.96 1028.00,698.73 1028.80,698.74 1029.60,695.59 1030.40,696.19 1031.20,696.74 1032.00,695.33 1032.80,698.43 1033.60,695.27 1034.40,699.43 1035.20,695.73 1036.00,695.87 1036.80,699.33 1037.60,696.95 1038.40,695.96 1039.20,695.04 1040.00,696.82 1040.80,696.86 1041.60,697.13 1042.40,697.15 1043.20,695.05 1044.00,695.72 1044.80,697.66 1045.60,696.42 1046.40,697.41 1047.20,695.91 1048.00,696.44 1048.80,695.26 1049.60,696.26 1050.40,695.23 1051.20,697.94 1052.00,696.58 1052.80,694.96 1053.60,695.09 1054.40,693.42 1055.20,696.41 1056.00,695.48 1056.80,694.59 1057.60,696.42 1058.40,694.90 1059.20,696.53 1060.00,696.48 1060.80,696.12 1061.60,695.32 1062.40,696.40 1063.20,696.06 1064.00,695.42 1064.80,694.70 1065.60,694.08 1066.40,694.30 1067.20,694.60 1068.00,693.38 1068.80,695.28 1069.60,695.94 1070.40,695.78 1071.20,694.21 1072.00,695.03 1072.80,692.67 1073.60,694.59 1074.40,692.12 1075.20,694.64 1076.00,694.46 1076.80,694.64 1077.60,695.95 1078.40,694.06 1079.20,694.52 1080.00,693.41 1080.00,705.15 1079.20,706.62 1078.40,706.13 1077.60,703.99 1076.80,708.70 1076.00,706.64 1075.20,706.78 1074.40,709.08 1073.60,706.90 1072.80,706.75 1072.00,705.91 1071.20,703.51 1070.40,704.01 1069.60,703.95 1068.80,706.41 1068.00,707.10 1067.20,707.22 1066.40,706.35 1065.60,706.72 1064.80,707.16 1064.00,706.04 1063.20,705.80 1062.40,705.59 1061.60,706.38 1060.80,707.05 1060.00,707.70 1059.20,706.22 1058.40,707.55 1057.60,706.62 1056.80,707.24 1056.00,705.92 1055.20,706.95 1054.40,706.13 1053.60,705.43 1052.80,707.39 1052.00,705.59 1051.20,707.67 1050.40,706.24 1049.60,706.82 1048.80,707.82 1048.00,708.15 1047.20,707.58 1046.40,707.71 1045.60,707.47 1044.80,707.62 1044.00,707.61 1043.20,707.28 1042.40,708.00 1041.60,707.07 1040.80,708.18 1040.00,704.23 1039.20,707.10 1038.40,708.12 1037.60,707.59 1036.80,708.51 1036.00,708.36 1035.20,707.59 1034.40,707.38 1033.60,707.16 1032.80,708.66 1032.00,708.38 1031.20,707.86 1030.40,704.48 1029.60,707.98 1028.80,708.14 1028.00,706.59 1027.20,708.02 1026.40,708.84 1025.60,707.20 1024.80,707.71 1024.00,708.50 1023.20,708.68 1022.40,708.22 1021.60,707.54 1020.80,709.04 1020.00,707.79 1019.20,708.36 1018.40,708.85 1017.60,708.94 1016.80,710.31 1016.00,709.04 1015.20,709.23 1014.40,709.37 1013.60,707.82 1012.80,709.41 1012.00,708.98" fill="#ff0000" stroke="#ff0000" stroke-width="0.6" stroke-linejoin="round"/>
</g>
<rect x="150.5" y="96.5" width="930" height="616" fill="none" stroke="#000" stroke-width="1.11"/>
<line x1="150.5" y1="712" x2="150.5" y2="717.5" class="t"/>
<text x="150.00" y="739.8" text-anchor="middle" class="tl" textLength="13.60" lengthAdjust="spacingAndGlyphs">0</text>
<line x1="266.5" y1="712" x2="266.5" y2="717.5" class="t"/>
<text x="266.25" y="739.8" text-anchor="middle" class="tl" textLength="13.60" lengthAdjust="spacingAndGlyphs">3</text>
<line x1="383.5" y1="712" x2="383.5" y2="717.5" class="t"/>
<text x="382.50" y="739.8" text-anchor="middle" class="tl" textLength="13.60" lengthAdjust="spacingAndGlyphs">6</text>
<line x1="499.5" y1="712" x2="499.5" y2="717.5" class="t"/>
<text x="498.75" y="739.8" text-anchor="middle" class="tl" textLength="13.60" lengthAdjust="spacingAndGlyphs">9</text>
<line x1="615.5" y1="712" x2="615.5" y2="717.5" class="t"/>
<text x="615.00" y="739.8" text-anchor="middle" class="tl" textLength="27.20" lengthAdjust="spacingAndGlyphs">12</text>
<line x1="731.5" y1="712" x2="731.5" y2="717.5" class="t"/>
<text x="731.25" y="739.8" text-anchor="middle" class="tl" textLength="27.20" lengthAdjust="spacingAndGlyphs">15</text>
<line x1="848.5" y1="712" x2="848.5" y2="717.5" class="t"/>
<text x="847.50" y="739.8" text-anchor="middle" class="tl" textLength="27.20" lengthAdjust="spacingAndGlyphs">18</text>
<line x1="964.5" y1="712" x2="964.5" y2="717.5" class="t"/>
<text x="963.75" y="739.8" text-anchor="middle" class="tl" textLength="27.20" lengthAdjust="spacingAndGlyphs">21</text>
<line x1="1080.5" y1="712" x2="1080.5" y2="717.5" class="t"/>
<text x="1080.00" y="739.8" text-anchor="middle" class="tl" textLength="27.20" lengthAdjust="spacingAndGlyphs">24</text>
<line x1="145" y1="712.5" x2="150.5" y2="712.5" class="t"/>
<text x="140.6" y="721.00" text-anchor="end" class="tl" textLength="13.60" lengthAdjust="spacingAndGlyphs">0</text>
<line x1="145" y1="624.5" x2="150.5" y2="624.5" class="t"/>
<text x="140.6" y="633.00" text-anchor="end" class="tl" textLength="13.60" lengthAdjust="spacingAndGlyphs">2</text>
<line x1="145" y1="536.5" x2="150.5" y2="536.5" class="t"/>
<text x="140.6" y="545.00" text-anchor="end" class="tl" textLength="13.60" lengthAdjust="spacingAndGlyphs">4</text>
<line x1="145" y1="448.5" x2="150.5" y2="448.5" class="t"/>
<text x="140.6" y="457.00" text-anchor="end" class="tl" textLength="13.60" lengthAdjust="spacingAndGlyphs">6</text>
<line x1="145" y1="360.5" x2="150.5" y2="360.5" class="t"/>
<text x="140.6" y="369.00" text-anchor="end" class="tl" textLength="13.60" lengthAdjust="spacingAndGlyphs">8</text>
<line x1="145" y1="272.5" x2="150.5" y2="272.5" class="t"/>
<text x="140.6" y="281.00" text-anchor="end" class="tl" textLength="27.20" lengthAdjust="spacingAndGlyphs">10</text>
<line x1="145" y1="184.5" x2="150.5" y2="184.5" class="t"/>
<text x="140.6" y="193.00" text-anchor="end" class="tl" textLength="27.20" lengthAdjust="spacingAndGlyphs">12</text>
<line x1="145" y1="96.5" x2="150.5" y2="96.5" class="t"/>
<text x="140.6" y="105.00" text-anchor="end" class="tl" textLength="27.20" lengthAdjust="spacingAndGlyphs">14</text>
<text x="616" y="88" text-anchor="middle" style="font-size:21.2px" textLength="536" lengthAdjust="spacingAndGlyphs">Australia-ASSA of 2025/09/14 with focus code = 56</text>
<text x="615" y="765" text-anchor="middle" style="font-size:21.2px" textLength="191" lengthAdjust="spacingAndGlyphs">Universal Time [h]</text>
<text transform="translate(100.3,405.5) rotate(-90)" x="0" y="0" text-anchor="middle" style="font-size:21.2px" textLength="129" lengthAdjust="spacingAndGlyphs">Y-factor [dB]</text>
<g id="legend">
<rect x="912.5" y="104.5" width="160" height="74.8" rx="3.4" ry="3.4" fill="#fff" fill-opacity="0.8" stroke="#d6d6d6" stroke-width="1.11"/>
<line x1="919" y1="116.9" x2="952" y2="116.9" stroke="#0000ff" stroke-width="2.08" stroke-linecap="square"/>
<line x1="919" y1="140.7" x2="952" y2="140.7" stroke="#008000" stroke-width="2.08" stroke-linecap="square"/>
<line x1="919" y1="163.9" x2="952" y2="163.9" stroke="#ff0000" stroke-width="2.08" stroke-linecap="square"/>
<text x="971.5" y="123" style="font-size:17.0px" textLength="89" lengthAdjust="spacingAndGlyphs">151.2 MHz</text>
<text x="971.5" y="146.5" style="font-size:17.0px" textLength="89" lengthAdjust="spacingAndGlyphs">252.3 MHz</text>
<text x="971.5" y="170" style="font-size:17.0px" textLength="89" lengthAdjust="spacingAndGlyphs">322.4 MHz</text>
</g>
</svg>
</body></html>
